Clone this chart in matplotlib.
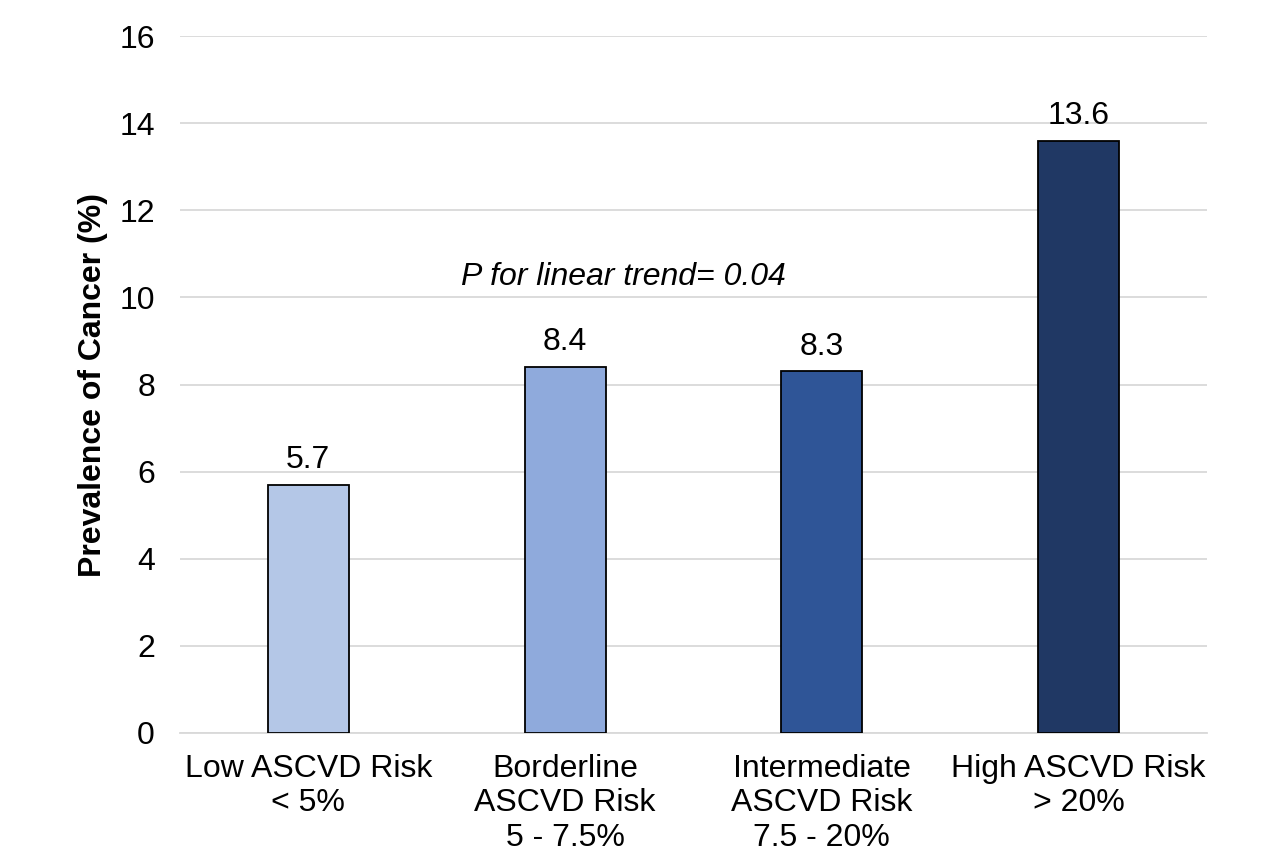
import matplotlib
matplotlib.use('Agg')
import matplotlib.pyplot as plt

plt.rcParams['font.family'] = ['Liberation Sans', 'DejaVu Sans']

categories = ["Low ASCVD Risk\n< 5%", "Borderline\nASCVD Risk\n5 - 7.5%",
              "Intermediate\nASCVD Risk\n7.5 - 20%", "High ASCVD Risk\n> 20%"]
prevalence = [5.7, 8.4, 8.3, 13.6]
colors = ['#B4C7E7', '#8FAADC', '#2F5597', '#203864']
yticks = [0, 2, 4, 6, 8, 10, 12, 14, 16]

fig = plt.figure(figsize=(12.82, 8.58), dpi=100)
ax = fig.add_axes([0.1404, 0.1457, 0.8011, 0.8123])

x = range(len(categories))
bars = ax.bar(x, prevalence, width=0.315, color=colors, edgecolor='black',
              linewidth=1.3, zorder=3)
for xi, v in zip(x, prevalence):
    ax.annotate(f"{v}", (xi, v), xytext=(0, 7), textcoords='offset points',
                ha='center', va='bottom', fontsize=23)

ax.set_xlim(-0.5, 3.5)
ax.set_ylim(0, 16)
ax.set_yticks(yticks)
ax.set_xticks(list(x))
ax.set_xticklabels(categories, fontsize=23, linespacing=1.2)
ax.tick_params(axis='y', length=0, pad=18, labelsize=23)
ax.tick_params(axis='x', length=0, pad=15)
ax.grid(axis='y', color='#D9D9D9', linewidth=1.3, zorder=0)
for s in ['top', 'right', 'left']:
    ax.spines[s].set_visible(False)
ax.spines['bottom'].set_color('#D9D9D9')
ax.spines['bottom'].set_linewidth(1.3)

ax.set_ylabel("Prevalence of Cancer (%)", fontsize=23, fontweight='bold', labelpad=8)
ax.text(1.225, 10.47, "P for linear trend= 0.04", style='italic', fontsize=23,
        ha='center', va='center')

fig.savefig("out.png", dpi=100)
